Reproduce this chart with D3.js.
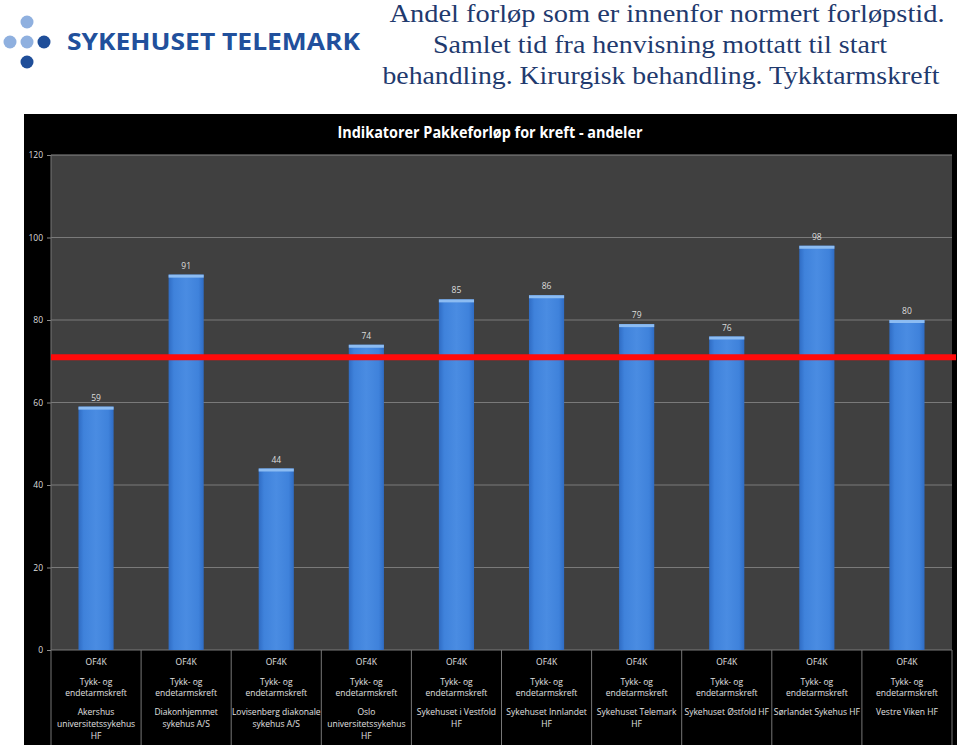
<!DOCTYPE html>
<html><head><meta charset="utf-8">
<script src="https://cdn.jsdelivr.net/npm/d3@7"></script>
<style>body{margin:0;background:#fff;}svg{display:block;}</style>
</head><body>
<svg id="c" width="960" height="749"></svg>
<script>
const hospitals = [
  ["Akershus","universitetssykehus","HF"],
  ["Diakonhjemmet","sykehus A/S"],
  ["Lovisenberg diakonale","sykehus A/S"],
  ["Oslo","universitetssykehus","HF"],
  ["Sykehuset i Vestfold","HF"],
  ["Sykehuset Innlandet","HF"],
  ["Sykehuset Telemark","HF"],
  ["Sykehuset Østfold HF"],
  ["Sørlandet Sykehus HF"],
  ["Vestre Viken HF"]
];
const categories = hospitals.map(h => h.join(" "));
const values = [59, 91, 44, 74, 85, 86, 79, 76, 98, 80];
const target = 71;
const yTicks = [0, 20, 40, 60, 80, 100, 120];
const indicatorLabel = "OF4K";
const diagnosisLabel = ["Tykk- og", "endetarmskreft"];
const titleLines = [
  "Andel forløp som er innenfor normert forløpstid.",
  "Samlet tid fra henvisning mottatt til start",
  "behandling. Kirurgisk behandling. Tykktarmskreft"
];
const chartTitle = "Indikatorer Pakkeforløp for kreft - andeler";
const logoText = "SYKEHUSET TELEMARK";

const svg = d3.select("#c");

// Logo
const logoDots = [[27,22,"#8fb0df"],[10,42,"#8fb0df"],[27,42,"#8fb0df"],[44,42,"#1f4e99"],[27,62,"#1f4e99"]];
svg.selectAll("circle.logo").data(logoDots).join("circle")
  .attr("cx", d=>d[0]).attr("cy", d=>d[1]).attr("r", 6.5).attr("fill", d=>d[2]);
svg.append("text").attr("x", 67).attr("y", 50)
  .attr("font-family", "Open Sans, sans-serif").attr("font-weight", 700)
  .attr("font-size", 24).attr("fill", "#21509c")
  .attr("textLength", 293).attr("lengthAdjust", "spacingAndGlyphs")
  .text(logoText);

// Page title
const titleW = [555, 454, 557];
const titleX = [667, 660, 661];
svg.selectAll("text.ptitle").data(titleLines).join("text")
  .attr("class","ptitle")
  .attr("x", (d,i)=>titleX[i]).attr("y", (d,i)=>22 + i*31)
  .attr("text-anchor","middle")
  .attr("font-family","Liberation Serif, serif").attr("font-size", 25)
  .attr("fill","#1f3a6e")
  .attr("textLength",(d,i)=>titleW[i]).attr("lengthAdjust","spacingAndGlyphs")
  .text(d=>d);

// Panel
svg.append("rect").attr("x",24).attr("y",114).attr("width",933).attr("height",631).attr("fill","#000");

const plotL = 51, plotR = 952, plotT = 155, plotB = 650, bottom = 745;
svg.append("rect").attr("x",plotL).attr("y",plotT).attr("width",plotR-plotL).attr("height",plotB-plotT).attr("fill","#404040");

svg.append("text").attr("x",490).attr("y",138).attr("text-anchor","middle")
  .attr("font-family","Open Sans, sans-serif").attr("font-weight",700).attr("font-size",16)
  .attr("fill","#fff").attr("textLength",305).attr("lengthAdjust","spacingAndGlyphs")
  .text(chartTitle);

const y = d3.scaleLinear().domain([0,120]).range([plotB, plotT]);
const x = d3.scaleBand().domain(categories).range([plotL, plotR]).padding(0);

// gridlines
svg.append("g").selectAll("line").data(yTicks).join("line")
  .attr("x1", plotL).attr("x2", plotR)
  .attr("y1", d=>y(d)).attr("y2", d=>y(d))
  .attr("stroke", d=> d===120 ? "#8a8a8a" : "#7a7a7a").attr("stroke-width", 1);

// y axis
const yAxis = d3.axisLeft(y).tickValues(yTicks).tickSize(4).tickPadding(4);
const gy = svg.append("g").attr("transform",`translate(${plotL},0)`).call(yAxis);
gy.select(".domain").remove();
gy.selectAll(".tick line").attr("stroke","#888");
gy.selectAll(".tick text").attr("fill","#ddd").attr("font-family","Open Sans, sans-serif").attr("font-size",8.5);

// vertical lines: axis + category dividers in label area
const bounds = categories.map(c=>x(c)).concat([plotR]);
svg.append("g").selectAll("line").data(bounds).join("line")
  .attr("x1", d=>d).attr("x2", d=>d)
  .attr("y1", (d,i)=> i===0 ? plotT : plotB).attr("y2", bottom)
  .attr("stroke", "#777").attr("stroke-width",1);

// bars
const defs = svg.append("defs");
const grad = defs.append("linearGradient").attr("id","bg").attr("x1","0").attr("x2","1").attr("y1","0").attr("y2","0");
grad.append("stop").attr("offset","0").attr("stop-color","#2f6cc4");
grad.append("stop").attr("offset","0.15").attr("stop-color","#3f82db");
grad.append("stop").attr("offset","0.5").attr("stop-color","#4a8ce2");
grad.append("stop").attr("offset","0.85").attr("stop-color","#3f82db");
grad.append("stop").attr("offset","1").attr("stop-color","#2f6cc4");

const bw = x.bandwidth()*0.39;
const bars = svg.append("g").selectAll("g").data(values).join("g");
bars.append("rect")
  .attr("x",(d,i)=>x(categories[i]) + (x.bandwidth()-bw)/2)
  .attr("y", d=>y(d)).attr("width", bw).attr("height", d=>y(0)-y(d))
  .attr("fill","url(#bg)");
bars.append("rect")
  .attr("x",(d,i)=>x(categories[i]) + (x.bandwidth()-bw)/2)
  .attr("y", d=>y(d)).attr("width", bw).attr("height", 3)
  .attr("fill","#8cbcf2");
bars.append("text")
  .attr("x",(d,i)=>x(categories[i]) + x.bandwidth()/2)
  .attr("y", d=>y(d)-6)
  .attr("text-anchor","middle").attr("font-family","Open Sans, sans-serif").attr("font-size",8.5)
  .attr("fill","#ddd").text(d=>d);

// target line
svg.append("line").attr("x1",plotL).attr("x2",956)
  .attr("y1",y(target)).attr("y2",y(target))
  .attr("stroke","#ff0a0a").attr("stroke-width",6);

// x labels
const lab = svg.append("g").selectAll("g").data(hospitals).join("g")
  .attr("transform",(d,i)=>`translate(${x(categories[i]) + x.bandwidth()/2},0)`)
  .attr("font-family","Open Sans, sans-serif").attr("font-size",8.5).attr("fill","#e0e0e0").attr("text-anchor","middle");
lab.append("text").attr("y",665).text(indicatorLabel);
lab.append("text").attr("y",685).text(diagnosisLabel[0]);
lab.append("text").attr("y",696).text(diagnosisLabel[1]);
lab.each(function(d){
  d3.select(this).selectAll("text.n").data(d).join("text").attr("class","n")
    .attr("y",(t,j)=>715 + j*12).text(t=>t);
});
</script>
</body></html>
